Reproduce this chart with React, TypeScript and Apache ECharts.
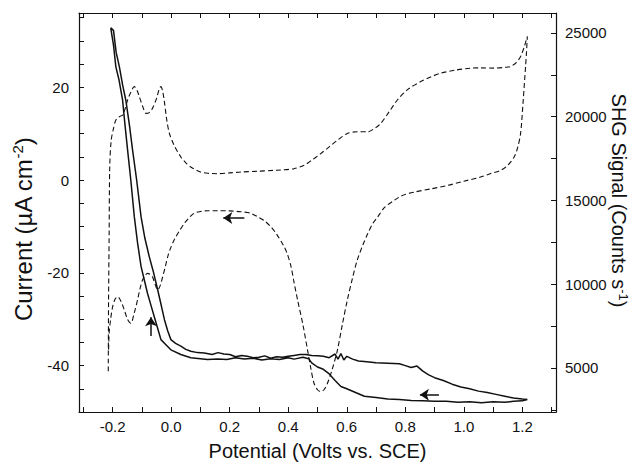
import React, { useEffect, useRef } from "react";
import * as echarts from "echarts";

// ---- data ----
// Current, sweep toward positive potential: [potential V, current µA cm^-2]
const currentForward: number[][] = [
  [-0.206, 32.8], [-0.197, 32.2], [-0.188, 27.5], [-0.177, 24.4], [-0.166, 20.5], [-0.155, 17.2],
  [-0.143, 12], [-0.132, 6.5], [-0.118, 0], [-0.103, -7.9], [-0.09, -12.5], [-0.075, -16.5],
  [-0.06, -20], [-0.046, -23.7], [-0.034, -27], [-0.023, -30.1], [-0.012, -32.5], [-0.001, -34.4],
  [0.015, -35.2], [0.033, -35.8], [0.05, -36.5], [0.067, -36.9], [0.09, -37.2], [0.113, -37.3],
  [0.14, -37.6], [0.16, -37.2], [0.18, -37.5], [0.2, -37.6], [0.22, -38.1], [0.24, -37.8],
  [0.26, -38.0], [0.28, -38.3], [0.3, -38.2], [0.32, -37.9], [0.34, -38.4], [0.36, -38.1],
  [0.38, -38.2], [0.4, -38.0], [0.42, -37.8], [0.44, -37.6], [0.46, -37.6], [0.48, -37.8],
  [0.5, -37.9], [0.52, -38.0], [0.54, -38.3], [0.56, -37.5], [0.57, -38.6], [0.58, -37.4],
  [0.59, -38.8], [0.6, -38.0], [0.62, -38.6], [0.64, -39.0], [0.66, -39.1], [0.7, -39.4],
  [0.74, -39.5], [0.78, -39.6], [0.8, -40.0], [0.82, -40.4], [0.84, -40.1], [0.86, -41.2],
  [0.88, -42.0], [0.9, -42.6], [0.93, -43.2], [0.96, -44.0], [0.99, -44.6], [1.02, -45.0],
  [1.05, -45.5], [1.08, -45.8], [1.11, -46.2], [1.14, -46.6], [1.17, -47.0], [1.2, -47.2],
  [1.217, -47.3],
];
// Current, return sweep toward negative potential
const currentReturn: number[][] = [
  [1.217, -47.3], [1.2, -47.6], [1.17, -47.7], [1.14, -47.9], [1.1, -47.8], [1.06, -48.0],
  [1.02, -47.8], [0.98, -47.9], [0.94, -47.7], [0.9, -47.7], [0.86, -47.6], [0.82, -47.5],
  [0.78, -47.3], [0.74, -47.2], [0.7, -46.9], [0.66, -46.6], [0.63, -45.8], [0.6, -45.0],
  [0.58, -44.5], [0.56, -43.2], [0.54, -41.8], [0.52, -40.8], [0.5, -40.3], [0.48, -39.4],
  [0.47, -38.5], [0.45, -38.2], [0.42, -38.6], [0.4, -38.3], [0.37, -38.7], [0.34, -38.5],
  [0.31, -38.8], [0.28, -38.4], [0.25, -38.6], [0.22, -38.3], [0.19, -38.7], [0.16, -38.6],
  [0.124, -38.7], [0.1, -38.5], [0.067, -38.3], [0.033, -37.6], [-0.001, -36.6], [-0.018, -35.5],
  [-0.035, -34.4], [-0.046, -32], [-0.058, -29.4], [-0.07, -26.8], [-0.081, -24.4], [-0.092, -21.5],
  [-0.103, -18.6], [-0.115, -13.5], [-0.126, -7.9], [-0.138, 0], [-0.149, 6.5], [-0.158, 12],
  [-0.166, 17.2], [-0.178, 21.5], [-0.189, 24.4], [-0.197, 29], [-0.206, 32.6], [-0.206, 32.8],
];
// SHG signal, forward sweep: [potential V, counts s^-1]
const shgForward: number[][] = [
  [-0.215, 4800], [-0.214, 9000], [-0.212, 13000], [-0.21, 17000], [-0.205, 18600], [-0.197, 19300],
  [-0.189, 19800], [-0.177, 20000], [-0.166, 20100], [-0.157, 20500], [-0.149, 21000], [-0.137, 21500],
  [-0.126, 21800], [-0.117, 21600], [-0.109, 21200], [-0.097, 20600], [-0.086, 20200], [-0.075, 20250],
  [-0.064, 20500], [-0.05, 21100], [-0.04, 21700], [-0.035, 21800], [-0.029, 21500], [-0.024, 21000],
  [-0.015, 19800], [-0.006, 19000], [0.01, 18300], [0.033, 17600], [0.05, 17250], [0.067, 17000],
  [0.1, 16700], [0.13, 16620], [0.158, 16600], [0.2, 16650], [0.238, 16700], [0.3, 16750],
  [0.352, 16800], [0.375, 16820], [0.42, 16900], [0.454, 17100], [0.48, 17400], [0.511, 17800],
  [0.54, 18200], [0.568, 18600], [0.602, 19000], [0.635, 19100], [0.671, 19100], [0.695, 19300],
  [0.716, 19600], [0.745, 20300], [0.773, 21000], [0.81, 21650], [0.853, 22100], [0.89, 22400],
  [0.921, 22600], [0.97, 22780], [1.023, 22900], [1.06, 22920], [1.103, 22900], [1.14, 22950],
  [1.16, 23000], [1.18, 23250], [1.194, 23600], [1.207, 24200], [1.217, 24800],
];
// SHG signal, return sweep
const shgReturn: number[][] = [
  [1.217, 24800], [1.214, 23800], [1.211, 23000], [1.203, 21000], [1.194, 19000], [1.183, 18100],
  [1.172, 17600], [1.15, 17100], [1.126, 16800], [1.09, 16600], [1.057, 16400], [1.0, 16150],
  [0.944, 15900], [0.89, 15700], [0.83, 15500], [0.79, 15300], [0.761, 15000], [0.73, 14600],
  [0.705, 14000], [0.688, 13600], [0.671, 13000], [0.654, 12300], [0.636, 11450], [0.62, 10400],
  [0.602, 9060], [0.585, 7600], [0.568, 6070], [0.55, 4900], [0.534, 4090], [0.522, 3700],
  [0.511, 3590], [0.5, 3700], [0.488, 4090], [0.477, 5000], [0.466, 6070], [0.45, 7600],
  [0.432, 9060], [0.42, 10100], [0.409, 11100], [0.397, 11800], [0.386, 12240], [0.36, 13000],
  [0.34, 13440], [0.318, 13800], [0.295, 14030], [0.27, 14250], [0.238, 14330], [0.2, 14380],
  [0.16, 14390], [0.124, 14390], [0.1, 14340], [0.079, 14240], [0.06, 13950], [0.045, 13640],
  [0.027, 13150], [0.01, 12640], [-0.001, 12200], [-0.012, 11640], [-0.02, 11050], [-0.029, 10450],
  [-0.038, 9900], [-0.046, 9660], [-0.055, 10000], [-0.064, 10450], [-0.073, 10600], [-0.081, 10650],
  [-0.09, 10500], [-0.098, 10250], [-0.107, 9700], [-0.115, 9060], [-0.126, 8300], [-0.138, 7670],
  [-0.149, 7900], [-0.16, 8460], [-0.172, 9000], [-0.183, 9260], [-0.192, 9100], [-0.2, 8660],
  [-0.207, 7900], [-0.212, 7070], [-0.214, 6000],
];

// annotation arrows: [from, to]
const currentArrows: number[][][] = [
  [[-0.069, -33.6], [-0.069, -29.6]],
  [[0.915, -46.3], [0.85, -46.3]],
];
const shgArrows: number[][][] = [
  [[0.25, 13950], [0.178, 13950]],
];

// axis ticks / labels
const xLabels = [-0.2, 0.0, 0.2, 0.4, 0.6, 0.8, 1.0, 1.2];
const xTicks = [-0.3, -0.2, -0.1, 0.0, 0.1, 0.2, 0.3, 0.4, 0.5, 0.6, 0.7, 0.8, 0.9, 1.0, 1.1, 1.2, 1.3];
const currentLabels = [-40, -20, 0, 20];
const currentTicks = [-45, -40, -35, -30, -25, -20, -15, -10, -5, 0, 5, 10, 15, 20, 25, 30, 35];
const shgLabels = [5000, 10000, 15000, 20000, 25000];
const shgTicks = [2500, 5000, 7500, 10000, 12500, 15000, 17500, 20000, 22500, 25000];

const X_MIN = -0.315, X_MAX = 1.315;
const I_MIN = -50, I_MAX = 36;
const S_MIN = 2373, S_MAX = 26194;

const FONT = "'Liberation Sans', Arial, Helvetica, sans-serif";
const INK = "#111";

export default function App() {
  const ref = useRef<HTMLDivElement>(null);
  useEffect(() => {
    if (!ref.current) return;
    const chart = echarts.init(ref.current, null, { renderer: "svg" });
    const axisLine = { show: true, onZero: false, lineStyle: { color: INK, width: 1.2 } };
    const tick = (vals: number[]) => ({
      show: true, inside: true, length: 5, customValues: vals, lineStyle: { color: INK, width: 1 },
    });
    const arrowLine = (pairs: number[][][]) => ({
      silent: true,
      symbol: ["none", "arrow"],
      symbolSize: 9,
      label: { show: false },
      emphasis: { disabled: true },
      lineStyle: { color: INK, width: 1.5, type: "solid" },
      data: pairs.map((p) => [{ coord: p[0] }, { coord: p[1] }]),
    });
    chart.setOption({
      animation: false,
      backgroundColor: "#fff",
      grid: { left: 79, right: 81, top: 13, bottom: 52, containLabel: false, outerBoundsMode: "none" },
      xAxis: [
        {
          type: "value", position: "bottom", min: X_MIN, max: X_MAX,
          axisLine, splitLine: { show: false }, axisTick: tick(xTicks),
          axisLabel: {
            customValues: xLabels, formatter: (v: number) => v.toFixed(1),
            color: INK, fontSize: 15, fontFamily: FONT, margin: 7,
          },
          name: "Potential (Volts vs. SCE)", nameLocation: "middle", nameGap: 29,
          nameMoveOverlap: false,
          nameTextStyle: { color: INK, fontSize: 20, fontFamily: FONT },
        },
        {
          type: "value", position: "top", min: X_MIN, max: X_MAX,
          axisLine, splitLine: { show: false }, axisTick: tick(xTicks),
          axisLabel: { show: false },
        },
      ],
      yAxis: [
        {
          type: "value", position: "left", min: I_MIN, max: I_MAX,
          axisLine, splitLine: { show: false }, axisTick: tick(currentTicks),
          axisLabel: {
            customValues: currentLabels, formatter: (v: number) => String(v),
            color: INK, fontSize: 15, fontFamily: FONT, margin: 10,
          },
          name: "Current (µA cm{sup|-2})", nameLocation: "middle", nameGap: 42, nameRotate: 90,
          nameMoveOverlap: false,
          nameTextStyle: {
            color: INK, fontSize: 24, fontFamily: FONT, padding: [0, 34, 0, 0],
            rich: { sup: { fontSize: 15, fontFamily: FONT, color: INK, padding: [0, 0, 12, 0] } },
          },
        },
        {
          type: "value", position: "right", min: S_MIN, max: S_MAX,
          axisLine, splitLine: { show: false }, axisTick: tick(shgTicks),
          axisLabel: {
            customValues: shgLabels, formatter: (v: number) => String(v),
            color: INK, fontSize: 15, fontFamily: FONT, margin: 9,
          },
          name: "SHG Signal (Counts s{sup|-1})", nameLocation: "middle", nameGap: 52, nameRotate: -90,
          nameMoveOverlap: false,
          nameTextStyle: {
            color: INK, fontSize: 20, fontFamily: FONT, padding: [0, 24, 0, 0],
            rich: { sup: { fontSize: 13, fontFamily: FONT, color: INK, padding: [0, 0, 9, 0] } },
          },
        },
      ],
      series: [
        {
          name: "Current", type: "line", xAxisIndex: 0, yAxisIndex: 0,
          data: [...currentForward, ...currentReturn],
          showSymbol: false, symbol: "none", smooth: false,
          lineStyle: { color: INK, width: 1.5 },
          markLine: arrowLine(currentArrows),
        },
        {
          name: "SHG", type: "line", xAxisIndex: 0, yAxisIndex: 1,
          data: [...shgForward, ...shgReturn],
          showSymbol: false, symbol: "none", smooth: 0.3,
          lineStyle: { color: INK, width: 1.1, type: [5, 3] },
          markLine: arrowLine(shgArrows),
        },
      ],
    });
    return () => chart.dispose();
  }, []);
  return (
    <div
      ref={ref}
      style={{ position: "fixed", left: 0, top: 0, width: 637, height: 464, background: "#fff" }}
    />
  );
}
